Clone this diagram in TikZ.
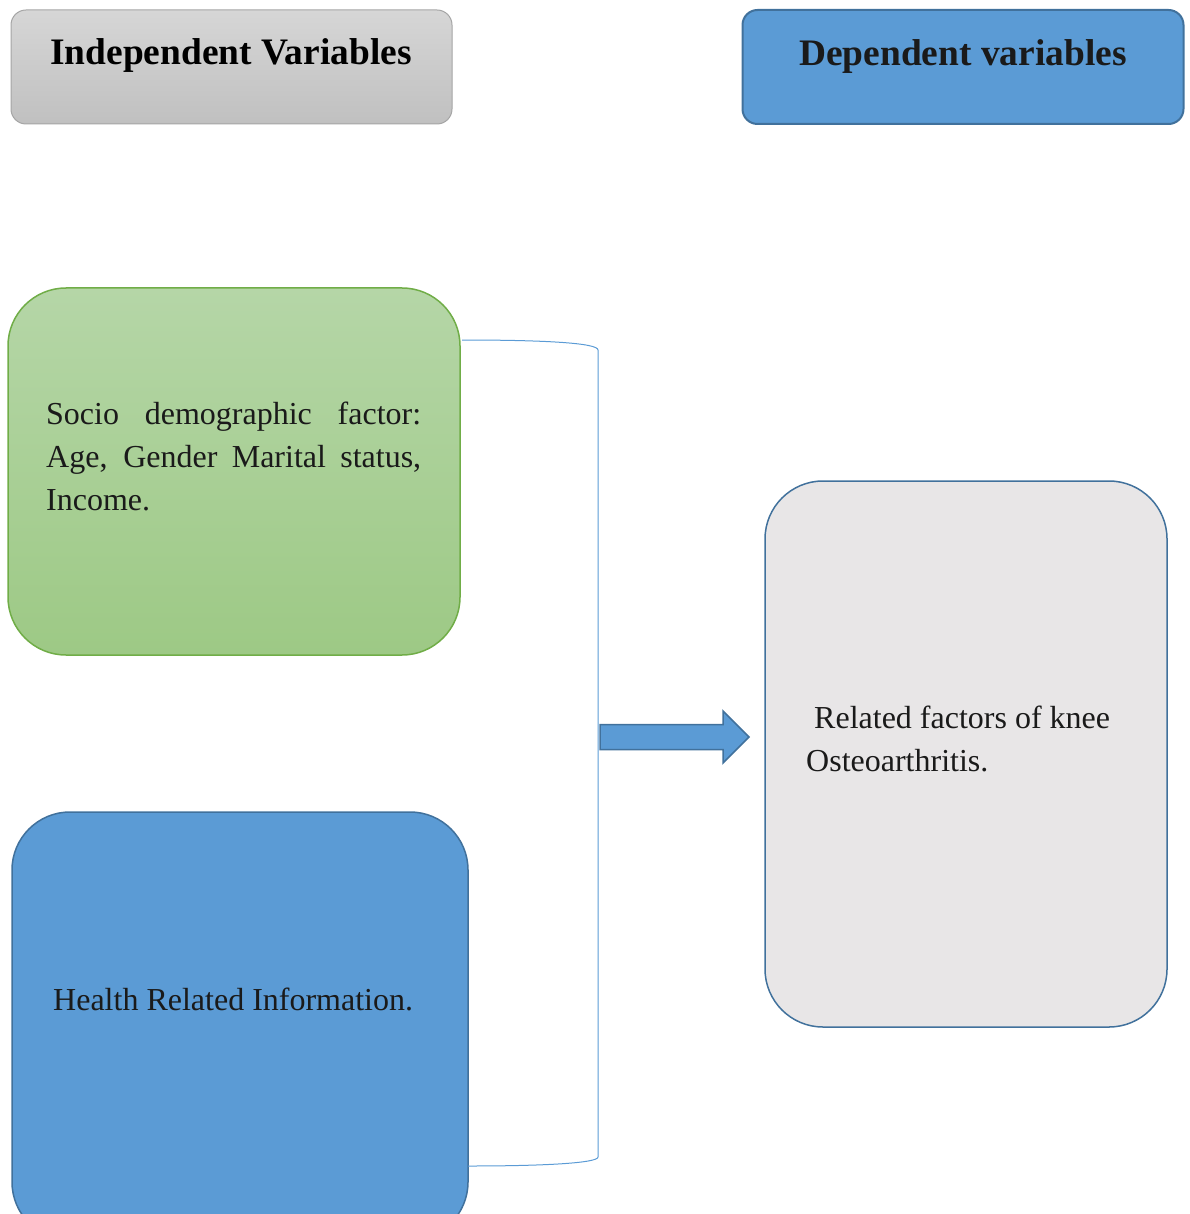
\documentclass[tikz,border=0pt]{standalone}
\usepackage{fontspec}
\setmainfont{Liberation Serif}
\usetikzlibrary{positioning, calc}

\definecolor{boxBlue}{HTML}{5B9BD5}
\definecolor{boxBlueLine}{HTML}{41719C}
\definecolor{headGrayTop}{HTML}{D6D6D6}
\definecolor{headGrayBot}{HTML}{C0C0C0}
\definecolor{headGrayLine}{HTML}{A5A5A5}
\definecolor{greenTop}{HTML}{B5D6A7}
\definecolor{greenBot}{HTML}{9DC985}
\definecolor{greenLine}{HTML}{70AD47}
\definecolor{kneeGray}{HTML}{E8E6E7}
\definecolor{textDark}{HTML}{1A1A1A}

\begin{document}
\begin{tikzpicture}[x=1pt, y=-1pt,
		headbox/.style={draw, rounded corners=15pt, minimum width=441pt, minimum height=114pt, inner sep=0pt},
		bigbox/.style={draw, rounded corners=58pt, line width=1.5pt, inner sep=0pt},
		headtext/.style={font=\fontsize{37.4}{44}\selectfont\bfseries, anchor=base, inner sep=0pt},
		bodytext/.style={font=\fontsize{32}{43}\selectfont, color=textDark, inner sep=0pt},
		bracket/.style={draw=boxBlue, line width=1pt},
		blockarrow/.style={fill=boxBlue, draw=boxBlueLine, line width=1.5pt, line join=miter}]
			\useasboundingbox (0, 0) rectangle (1189, 1214);
			\clip (0, 0) rectangle (1189, 1214);
			
			% headers
			\node[headbox, top color=headGrayTop, bottom color=headGrayBot, draw=headGrayLine, line width=1pt] (indepBox) at (231.5, 67) {};
			\node[headtext] (indepText) at (231, 65) {Independent Variables};
			\node[headbox, fill=boxBlue, draw=boxBlueLine, line width=2pt] (depBox) at (963, 67) {};
			\node[headtext, color=textDark] (depText) at (963, 66) {Dependent variables};
			
			% independent boxes
			\node[bigbox, minimum width=452pt, minimum height=367pt, top color=greenTop, bottom color=greenBot, draw=greenLine] (socioBox) at (234, 471.5) {};
			\node[bodytext, text width=375pt, align=justify, anchor=base west] (socioText) at (46, 424)
				{Socio demographic factor: Age, Gender Marital status, Income.};
			
			\node[bigbox, minimum width=456pt, minimum height=428pt, fill=boxBlue, draw=boxBlueLine] (healthBox) at (240, 1026) {};
			\node[bodytext, anchor=base west] (healthText) at (53, 1010) {Health Related Information.};
			
			% dependent box
			\node[bigbox, minimum width=402pt, minimum height=546pt, fill=kneeGray, draw=boxBlueLine] (kneeBox) at (966, 754) {};
			\node[bodytext, anchor=base west] (kneeLineA) at (814, 728) {Related factors of knee};
			\node[bodytext, anchor=base west] (kneeLineB) at (806, 771) {Osteoarthritis.};
			
			% bracket and arrow
			\coordinate (brTop) at (462, 340);
			\coordinate (brBottom) at (468, 1166);
			\draw[bracket] (brTop) .. controls (545, 340) and (598, 343) .. (598, 350)
				-- (598, 1157) .. controls (598, 1163) and (545, 1166) .. (brBottom);
			
			\coordinate (arrowTail) at (600, 737);
			\coordinate (arrowTip) at (749, 737);
			\draw[blockarrow] ($(arrowTail)+(0,-12.5)$) -- (723, 724.5) -- (723, 711)
				-- (arrowTip) -- (723, 763) -- (723, 749.5) -- ($(arrowTail)+(0,12.5)$) -- cycle;
			
		\end{tikzpicture}
\end{document}
